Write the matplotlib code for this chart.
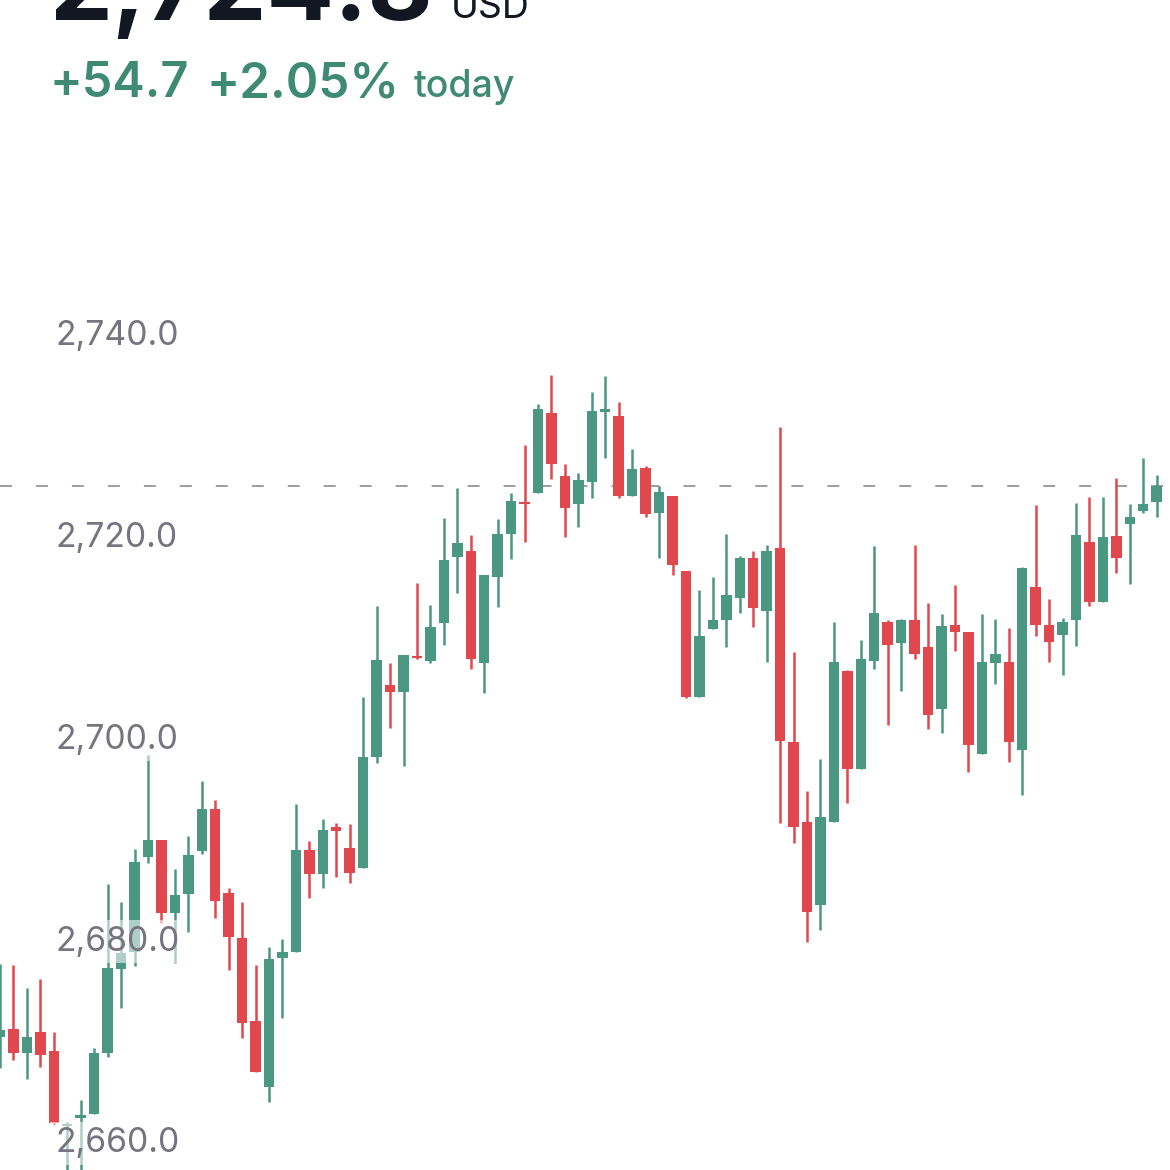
import matplotlib
matplotlib.use("Agg")
import matplotlib.pyplot as plt
from matplotlib import transforms

plt.rcParams['font.family'] = ['Inter', 'DejaVu Sans']
plt.rcParams['lines.scale_dashes'] = False

# candle data (one candle per slot, left to right)
opens = [2670.2, 2671.0, 2668.6, 2670.7, 2668.8, 2661.4, 2662.2, 2662.6, 2668.6, 2677.0,
         2678.6, 2688.1, 2689.7, 2682.5, 2684.4, 2688.6, 2692.8, 2684.5, 2680.0, 2671.8,
         2665.3, 2678.0, 2678.6, 2688.7, 2686.4, 2691.0, 2688.9, 2687.0, 2698.0, 2705.1,
         2704.4, 2708.0, 2707.5, 2711.3, 2717.8, 2718.4, 2707.3, 2715.8, 2720.1, 2723.2,
         2724.1, 2732.1, 2725.8, 2723.0, 2725.2, 2732.2, 2731.8, 2723.8, 2726.6, 2722.2,
         2723.8, 2716.4, 2703.9, 2710.7, 2711.5, 2713.7, 2717.7, 2712.4, 2718.7, 2699.5,
         2691.5, 2683.3, 2691.5, 2706.5, 2696.8, 2707.5, 2711.4, 2709.3, 2711.5, 2708.9,
         2702.7, 2711.1, 2710.4, 2698.3, 2707.3, 2707.4, 2698.7, 2714.8, 2711.1, 2710.1,
         2711.5, 2719.3, 2713.3, 2719.9, 2721.1, 2722.4, 2723.2]
highs = [2677.4, 2677.3, 2675.1, 2676.0, 2670.7, 2661.8, 2664.0, 2669.1, 2685.4, 2683.6,
         2688.8, 2698.2, 2689.7, 2686.9, 2690.1, 2695.6, 2693.7, 2685.0, 2683.6, 2677.3,
         2679.1, 2679.9, 2693.3, 2689.6, 2691.8, 2691.4, 2691.3, 2703.9, 2712.9, 2707.3,
         2708.1, 2715.2, 2713.0, 2721.7, 2724.6, 2720.0, 2716.0, 2721.6, 2724.1, 2728.9,
         2733.0, 2735.8, 2727.0, 2726.1, 2734.2, 2735.7, 2733.2, 2728.5, 2726.8, 2724.8,
         2723.8, 2716.4, 2714.5, 2715.8, 2720.1, 2717.9, 2718.4, 2719.0, 2730.7, 2708.4,
         2694.6, 2697.8, 2711.4, 2706.6, 2709.6, 2718.9, 2711.5, 2711.6, 2719.0, 2713.2,
         2712.1, 2715.0, 2710.4, 2712.1, 2711.6, 2710.8, 2716.8, 2722.9, 2713.6, 2711.7,
         2723.1, 2723.7, 2723.7, 2725.6, 2723.0, 2727.6, 2725.9]
lows = [2667.1, 2667.9, 2666.0, 2667.2, 2661.5, 2656.5, 2656.5, 2662.6, 2668.2, 2673.1,
        2677.2, 2687.5, 2681.5, 2677.5, 2680.6, 2688.4, 2682.0, 2676.9, 2670.1, 2666.7,
        2663.8, 2672.1, 2678.6, 2684.0, 2685.0, 2686.1, 2685.5, 2687.0, 2697.4, 2700.8,
        2697.1, 2707.7, 2707.3, 2709.1, 2714.2, 2706.7, 2704.3, 2712.8, 2717.6, 2719.3,
        2724.1, 2725.5, 2719.8, 2720.8, 2723.6, 2727.6, 2723.6, 2723.8, 2721.8, 2717.7,
        2716.0, 2703.8, 2703.9, 2710.7, 2708.9, 2712.2, 2710.9, 2707.4, 2691.4, 2689.4,
        2679.6, 2680.8, 2691.5, 2693.4, 2696.8, 2706.7, 2701.1, 2704.5, 2707.7, 2700.7,
        2700.3, 2708.5, 2696.5, 2698.3, 2705.2, 2697.5, 2694.2, 2710.0, 2707.4, 2706.1,
        2709.0, 2712.9, 2713.3, 2716.2, 2715.1, 2722.2, 2721.8]
closes = [2670.9, 2668.6, 2670.2, 2668.4, 2661.7, 2661.6, 2662.5, 2668.6, 2677.1, 2678.5,
          2687.6, 2689.7, 2682.5, 2684.3, 2688.3, 2692.8, 2683.7, 2680.1, 2671.6, 2666.7,
          2677.9, 2678.6, 2688.7, 2686.4, 2690.7, 2690.6, 2686.5, 2698.0, 2707.6, 2704.4,
          2708.1, 2707.8, 2710.9, 2717.5, 2719.2, 2707.7, 2716.0, 2720.1, 2723.3, 2723.0,
          2732.5, 2727.0, 2722.7, 2725.4, 2732.3, 2732.5, 2723.8, 2726.5, 2722.1, 2724.2,
          2717.0, 2703.9, 2710.0, 2711.5, 2714.0, 2717.7, 2712.7, 2718.4, 2699.6, 2691.0,
          2682.6, 2692.0, 2707.4, 2696.8, 2707.7, 2712.2, 2709.1, 2711.5, 2708.2, 2702.1,
          2711.0, 2710.4, 2699.2, 2707.4, 2708.2, 2699.5, 2716.7, 2711.1, 2709.4, 2711.4,
          2720.0, 2713.3, 2719.8, 2717.7, 2721.8, 2723.0, 2724.8]

last_price = 2724.8
y_ticks = [2660.0, 2680.0, 2700.0, 2720.0, 2740.0]

up_color = '#4a9782'
down_color = '#e0484e'

fig = plt.figure(figsize=(11.7, 11.7), dpi=100)
ax = fig.add_axes([0, 0, 1, 1])

# pixel mapping: 2740 at y=333, 2660 at y=1140
ppu = (1140 - 333) / 80.0
ax.set_ylim(2660 - (1170 - 1140) / ppu, 2740 + 333 / ppu)
ax.set_xlim(0, 1170 / 13.45)
ax.axis('off')

xs = list(range(len(opens)))
colors = [up_color if c >= o else down_color for o, c in zip(opens, closes)]
bottoms = [min(o, c) for o, c in zip(opens, closes)]
heights = [max(abs(c - o), 0.2) for o, c in zip(opens, closes)]

ax.vlines(xs, lows, highs, colors=colors, linewidth=1.8, zorder=2)
ax.bar(xs, heights, bottom=bottoms, width=0.78, color=colors, linewidth=0, zorder=3)

# last price dashed line
ax.axhline(last_price, color='#8c8a94', linewidth=1.2, dashes=(8.6, 17.3), zorder=1)

# price labels on the left, over the candles
trans = transforms.blended_transform_factory(ax.transAxes, ax.transData)
for t in y_ticks:
    ax.text(55 / 1170, t, f"{t:,.1f}", transform=trans, ha='left', va='center_baseline',
            fontsize=24.3, color='#75747f', zorder=5,
            bbox=dict(facecolor='white', alpha=0.55, edgecolor='none', pad=4))

# header
green_txt = '#3f8a73'
fig.text(50 / 1170, 1 - 20 / 1170, "2,724.8", fontsize=72, fontweight='bold',
         color='#131722', va='baseline', ha='left')
fig.text(451 / 1170, 1 - 18 / 1170, "USD", fontsize=27, color='#131722',
         va='baseline', ha='left')
fig.text(50 / 1170, 1 - 97 / 1170, "+54.7", fontsize=35, fontweight='semibold',
         color=green_txt, va='baseline', ha='left')
fig.text(206 / 1170, 1 - 97 / 1170, "+2.05%", fontsize=35.5, fontweight='semibold',
         color=green_txt, va='baseline', ha='left')
fig.text(414 / 1170, 1 - 97 / 1170, "today", fontsize=27, fontweight='medium',
         color=green_txt, va='baseline', ha='left')

plt.savefig('out.png', dpi=100, facecolor='white')
